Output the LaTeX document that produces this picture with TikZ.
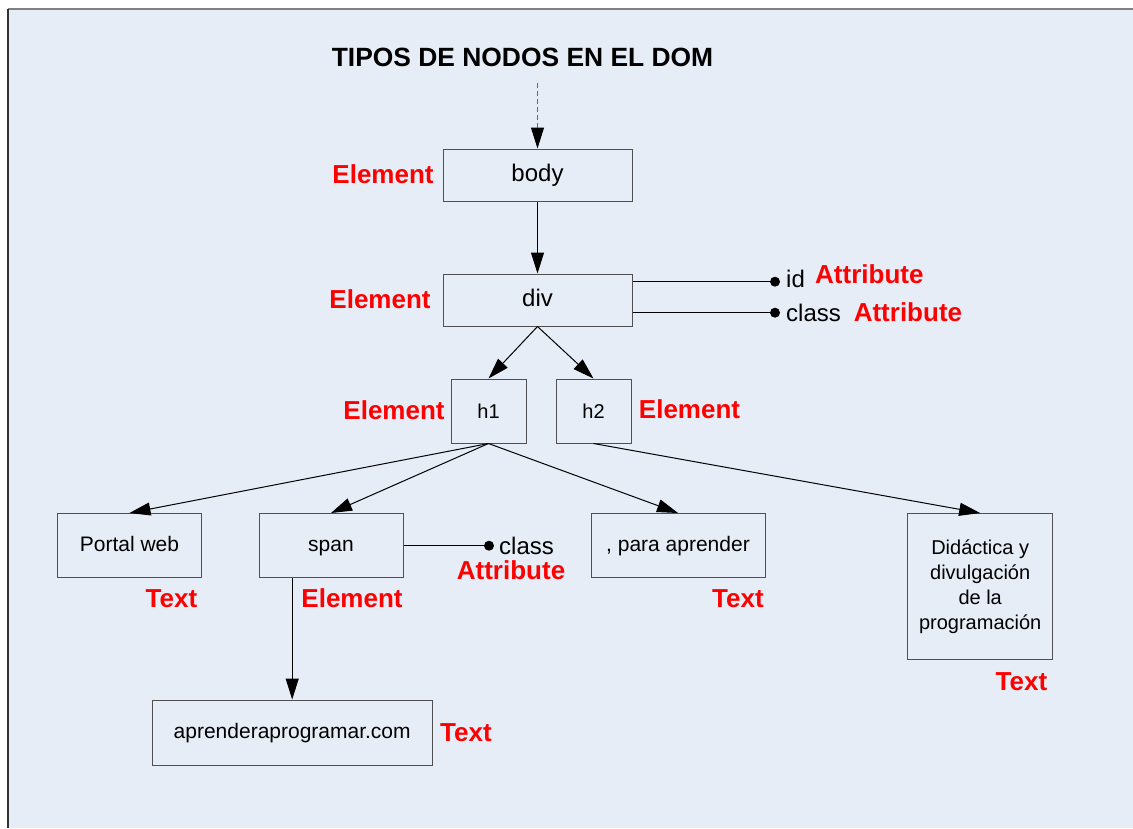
\documentclass[tikz,border=0pt]{standalone}
\usepackage{fontspec}
\setmainfont{Liberation Sans}
\usetikzlibrary{arrows.meta}
\definecolor{bg}{HTML}{E6EDF7}
\definecolor{boxline}{HTML}{505050}
\definecolor{lblred}{HTML}{FF0000}
\definecolor{topline}{HTML}{808080}
\definecolor{leftline}{HTML}{333333}
\definecolor{dashgray}{HTML}{666666}
\begin{document}
\begin{tikzpicture}[x=1pt,y=-1pt,
  box/.style={draw=boxline, line width=1pt, inner sep=0pt, text=black},
  boxxl/.style={box, font=\fontsize{24}{29}\selectfont, text height=18.5pt, text depth=5pt},
  boxl/.style={box, font=\fontsize{21}{25}\selectfont, text height=16.5pt, text depth=4.4pt},
  boxm/.style={box, font=\fontsize{20}{24}\selectfont, text height=18.8pt, text depth=4.2pt},
  lbl/.style={text=lblred, font=\bfseries\fontsize{26}{31}\selectfont, anchor=base, inner sep=0pt},
  attr/.style={font=\fontsize{24}{29}\selectfont, anchor=base west, inner sep=0pt},
  arr/.style={-{Triangle[length=21pt,width=13pt,color=black]}, line width=1pt, black},
  dashedarr/.style={arr, draw=dashgray, dash pattern=on 5pt off 3pt},
  dotnode/.style={circle, fill=black, inner sep=0pt, minimum size=10pt},
  link/.style={line width=1pt, black}]
\useasboundingbox (0,0) rectangle (1133,828);
\fill[bg] (8,9) rectangle (1133,828);
\draw[topline, line width=1.5pt] (8,9) -- (1133,9);
\draw[leftline, line width=1.2pt] (8,9) -- (8,828);

% title
\node[font=\bfseries\fontsize{26.4}{31}\selectfont, anchor=base, inner sep=0pt] (title) at (522.5,66) {TIPOS DE NODOS EN EL DOM};
\coordinate (start) at (537.5,83);

% boxes
\node[boxxl, minimum width=189pt, minimum height=52pt] (body) at (537.5,175) {body};
\node[boxxl, minimum width=189pt, minimum height=52pt] (div) at (537.5,300) {div};
\node[boxm, minimum width=75pt, minimum height=64pt] (h1) at (488.5,411) {h1};
\node[boxm, minimum width=75pt, minimum height=64pt] (h2) at (593.5,411) {h2};
\node[boxl, minimum width=144pt, minimum height=64pt] (portal) at (129.5,545.5) {Portal web};
\node[boxl, minimum width=144pt, minimum height=64pt] (span) at (331,545.5) {span};
\node[boxl, minimum width=174pt, minimum height=64pt] (para) at (678,545.5) {, para aprender};
\node[box, minimum width=144.5pt, minimum height=145.5pt, align=center, font=\fontsize{20}{25}\selectfont] (dida) at (980.2,586.3) {Didáctica y\\divulgación\\de la\\programación};
\node[boxl, minimum width=280pt, minimum height=65pt] (aprender) at (292.2,732.5) {aprenderaprogramar.com};

% connectors
\draw[dashedarr] (start) -- (body.north);
\draw[arr] (body.south) -- (div.north);
\draw[arr] (div.south) -- (h1.north);
\draw[arr] (div.south) -- (h2.north);
\draw[arr] (h1.south) -- (portal.north);
\draw[arr] (h1.south) -- (span.north);
\draw[arr] (h1.south) -- (para.north);
\draw[arr] (h2.south) -- (dida.north);
\draw[arr] (span.south -| aprender.north) -- (aprender.north);

% attributes
\node[dotnode] (iddot) at (775,281.7) {};
\node[dotnode] (classdot) at (775,312.7) {};
\node[dotnode] (spandot) at (489,545.7) {};
\draw[link] (div.east |- iddot) -- (iddot);
\draw[link] (div.east |- classdot) -- (classdot);
\draw[link] (span.east |- spandot) -- (spandot);
\node[attr] (idtxt) at (786,287.5) {id};
\node[lbl, anchor=base west] (idattr) at (815,283.4) {Attribute};
\node[attr] (classtxt) at (786,321.5) {class};
\node[lbl, anchor=base west] (classattr) at (853.6,321.5) {Attribute};
\node[attr] (spanclass) at (499,554) {class};
\node[lbl, anchor=base west] (spanattr) at (456.7,579.3) {Attribute};

% type labels
\node[lbl] (lbody) at (383,183) {Element};
\node[lbl] (ldiv) at (380,308.5) {Element};
\node[lbl] (lh1) at (394,419.5) {Element};
\node[lbl] (lh2) at (689.5,418.5) {Element};
\node[lbl] (lportal) at (171.5,607) {Text};
\node[lbl] (lspan) at (352,607) {Element};
\node[lbl] (lpara) at (738,607) {Text};
\node[lbl] (ldida) at (1021.5,690) {Text};
\node[lbl] (laprender) at (466,741) {Text};
\end{tikzpicture}
\end{document}
